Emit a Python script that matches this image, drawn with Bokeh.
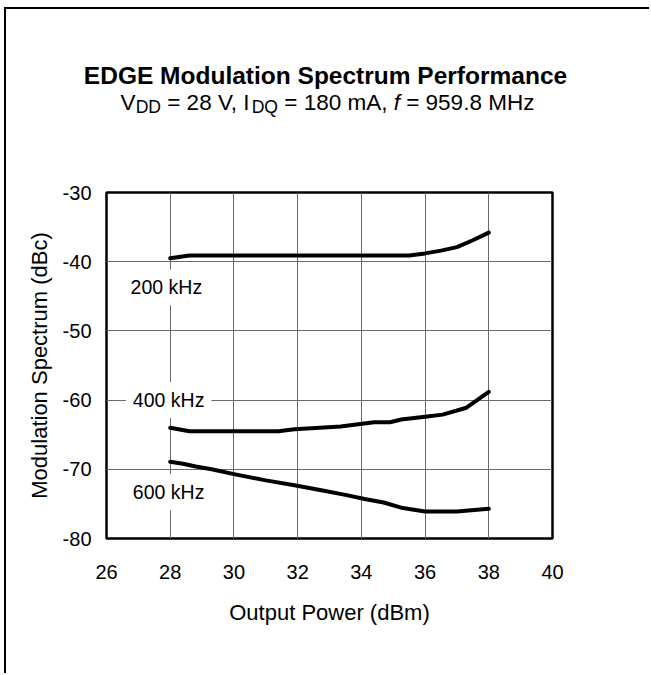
from bokeh.plotting import figure
from bokeh.models import Label, FixedTicker, Range1d
from bokeh.core.properties import value
from bokeh.embed import file_html
from bokeh.resources import INLINE

# ---------------- data ----------------
x_ticks = [26, 28, 30, 32, 34, 36, 38, 40]
y_ticks = [-80, -70, -60, -50, -40, -30]

x_200 = [28, 28.6, 30, 32, 34, 35.5, 36, 36.5, 37, 37.5, 38]
y_200 = [-39.5, -39.1, -39.1, -39.1, -39.1, -39.1, -38.8, -38.4, -37.9, -36.9, -35.8]

x_400 = [28, 28.6, 29.5, 31.4, 31.9, 33.35, 33.9, 34.4, 34.9, 35.25, 36.0, 36.55, 37.3, 38]
y_400 = [-64.0, -64.5, -64.5, -64.5, -64.2, -63.8, -63.5, -63.2, -63.2, -62.8, -62.4, -62.1, -61.1, -58.8]

x_600 = [28, 28.4, 28.8, 29.3, 30.0, 31.0, 31.9, 32.7, 33.5, 34.1, 34.7, 35.3, 36.0, 37.0, 38.0]
y_600 = [-68.9, -69.2, -69.6, -70.0, -70.7, -71.6, -72.3, -73.0, -73.7, -74.3, -74.8, -75.6, -76.1, -76.1, -75.7]

series_labels = ["200 kHz", "400 kHz", "600 kHz"]
label_pos = [(27.88, -43.7), (27.95, -60.0), (27.95, -73.3)]

title_text = "EDGE Modulation Spectrum Performance"
x_label = "Output Power (dBm)"
y_label = "Modulation Spectrum (dBc)"

# ---------------- layout ----------------
FONT = "Liberation Sans"
OFF_X, OFF_Y = 6, 9                 # canvas origin on the page (margin + border)
W = 651 - OFF_X
TOP_H = 151                         # header canvas: page y 9 .. 160
MAIN_TOP = OFF_Y + TOP_H
MAIN_H = 675 - MAIN_TOP
FRAME_L_PAGE, FRAME_T_PAGE = 106, 194
FRAME_W, FRAME_H = 446, 346
FRAME_L = FRAME_L_PAGE - OFF_X
FRAME_T = FRAME_T_PAGE - MAIN_TOP

# ---- header figure (coordinates = page pixels) ----
top = figure(width=W, height=TOP_H, output_backend="svg", toolbar_location=None,
             x_range=Range1d(OFF_X, OFF_X + W), y_range=Range1d(OFF_Y + TOP_H, OFF_Y),
             x_axis_location=None, y_axis_location=None, min_border=0)
top.styles = {"margin-left": "4px", "margin-top": "7px",
              "border-left": "2px solid #000", "border-top": "2px solid #000"}
top.grid.visible = False
top.outline_line_color = None
top.background_fill_color = "white"
top.border_fill_color = "white"

top.text(x=[325], y=[75], text=[title_text], text_align="center", text_baseline="alphabetic",
         text_font=value(FONT), text_font_size="24.5px", text_font_style="bold",
         text_color="black")

ARIAL = {' ': 278, 'V': 667, 'D': 722, '=': 584, '2': 556, '8': 556, ',': 278, 'I': 278,
         'Q': 778, '1': 556, '0': 556, 'm': 833, 'A': 667, 'f': 278, '9': 556, '5': 556,
         '.': 278, 'M': 833, 'H': 722, 'z': 500}
S = 22.5
SUB = 0.78
pieces = [("V", "n"), ("DD", "s"), (" = 28 V, I", "n"), ("DQ", "s"),
          (" = 180 mA, ", "n"), ("f", "i"), (" = 959.8 MHz", "n")]


def width(t, size):
    return sum(ARIAL[c] for c in t) / 1000.0 * size


sizes = [S * SUB if k == "s" else S for _, k in pieces]
total = sum(width(t, s) for (t, _), s in zip(pieces, sizes))
cur = 327 - total / 2
base = 102
for (t, k), s in zip(pieces, sizes):
    yb = base + (0.22 * S if k == "s" else 0)
    lead = len(t) - len(t.lstrip(" "))
    shown = t.strip(" ")
    top.text(x=[cur + width(" " * lead, s)], y=[yb], text=[shown], text_align="left",
             text_baseline="alphabetic", text_font=value(FONT), text_font_size=f"{s:.1f}px",
             text_font_style="italic" if k == "i" else "normal", text_color="black")
    cur += width(t, s)

# ---- main chart ----
p = figure(width=W, height=MAIN_H, output_backend="svg", toolbar_location=None,
           x_range=Range1d(26, 40), y_range=Range1d(-80, -30),
           frame_width=FRAME_W, frame_height=FRAME_H,
           min_border_left=FRAME_L, min_border_top=FRAME_T,
           min_border_right=W - FRAME_L - FRAME_W,
           min_border_bottom=MAIN_H - FRAME_T - FRAME_H)
p.styles = {"margin-left": "4px", "border-left": "2px solid #000"}
p.background_fill_color = "white"
p.border_fill_color = "white"
p.outline_line_color = "black"
p.outline_line_width = 2.5

for ax in (p.xaxis, p.yaxis):
    ax.axis_line_color = None
    ax.major_tick_line_color = None
    ax.minor_tick_line_color = None
    ax.major_label_text_font = FONT
    ax.major_label_text_font_size = "20px"
    ax.major_label_text_color = "black"
    ax.axis_label_text_font = FONT
    ax.axis_label_text_font_size = "22px"
    ax.axis_label_text_font_style = "normal"
    ax.axis_label_text_color = "black"

p.xaxis.ticker = FixedTicker(ticks=x_ticks)
p.yaxis.ticker = FixedTicker(ticks=y_ticks)
p.xaxis.major_label_overrides = {t: str(t) for t in x_ticks}
p.yaxis.major_label_overrides = {t: str(t) for t in y_ticks}
p.xaxis.axis_label = x_label
p.yaxis.axis_label = y_label
p.xaxis.major_label_standoff = 20
p.yaxis.major_label_standoff = 9
p.xaxis.axis_label_standoff = 18
p.yaxis.axis_label_standoff = 8

p.xgrid.ticker = FixedTicker(ticks=x_ticks)
p.ygrid.ticker = FixedTicker(ticks=y_ticks)
for g in (p.xgrid, p.ygrid):
    g.grid_line_color = "#6a6a6a"
    g.grid_line_width = 1

for xs, ys in ((x_200, y_200), (x_400, y_400), (x_600, y_600)):
    p.line(xs, ys, line_color="black", line_width=4, line_join="round", line_cap="round")

for txt, (lx, ly) in zip(series_labels, label_pos):
    p.add_layout(Label(x=lx, y=ly, text=txt, text_align="center", text_baseline="middle",
                       text_font=FONT, text_font_size="19.5px", text_color="black",
                       background_fill_color="white", padding=7))

open("out.html", "w").write(file_html([top, p], INLINE))
